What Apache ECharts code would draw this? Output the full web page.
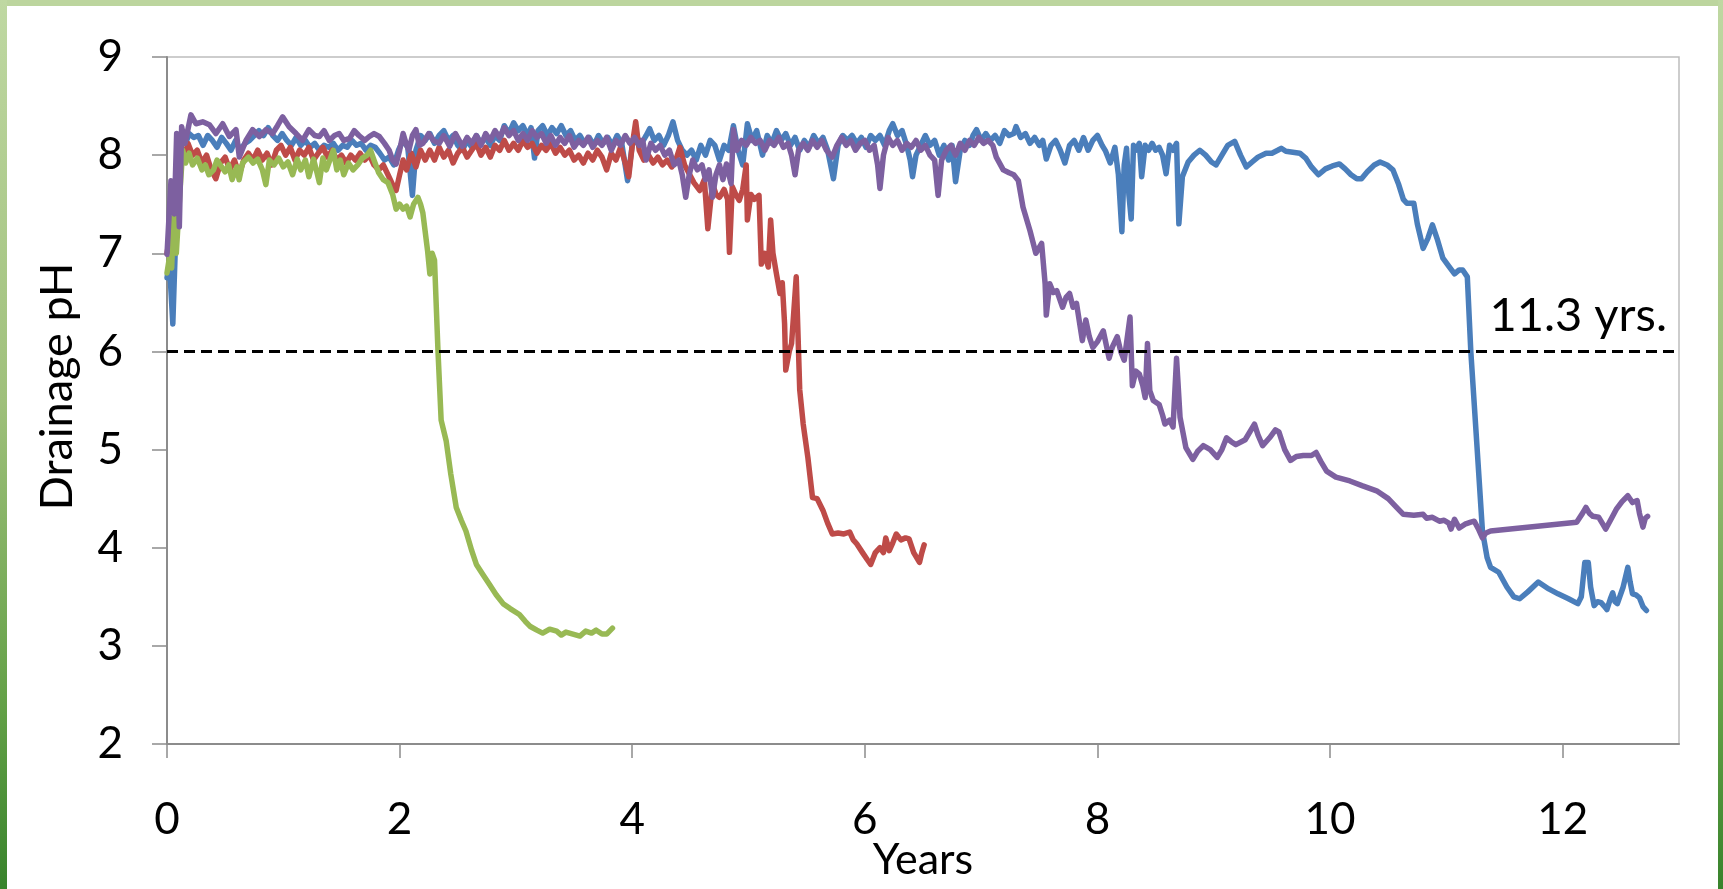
<!DOCTYPE html>
<html>
<head>
<meta charset="utf-8">
<title>Drainage pH over time</title>
<script src="https://cdn.jsdelivr.net/npm/echarts@6/dist/echarts.min.js"></script>
<style>
  html, body { margin: 0; padding: 0; background: #ffffff; }
  #chart { width: 1723px; height: 889px; }
</style>
</head>
<body>
<div id="chart"></div>
<script>
// Tick values for both axes
const xTicks = [0, 2, 4, 6, 8, 10, 12];
const yTicks = [2, 3, 4, 5, 6, 7, 8, 9];

// Threshold pH and its annotation
const thresholdPH = 6;
const thresholdLabel = '11.3 yrs.';

// Column series: [years, drainage pH]
const blueSeries = [
  [0, 6.75], [0.02, 6.9], [0.035, 6.6], [0.05, 6.28], [0.07, 7.0], [0.09, 7.3], [0.11, 7.9], [0.13, 8.15],
  [0.16, 8.12], [0.19, 8.22], [0.23, 8.18], [0.27, 8.2], [0.31, 8.1], [0.35, 8.2], [0.39, 8.15], [0.43, 8.08],
  [0.47, 8.18], [0.51, 8.12], [0.55, 8.05], [0.59, 8.15], [0.63, 8.05], [0.67, 8.12], [0.71, 8.15], [0.75, 8.2],
  [0.79, 8.25], [0.83, 8.2], [0.87, 8.28], [0.91, 8.2], [0.95, 8.15], [0.99, 8.22], [1.03, 8.15], [1.07, 8.1],
  [1.11, 8.18], [1.15, 8.1], [1.19, 8.15], [1.23, 8.08], [1.27, 8.12], [1.31, 8.05], [1.35, 8.1], [1.39, 8.08],
  [1.43, 8.12], [1.47, 8.05], [1.51, 8.1], [1.55, 8.08], [1.59, 8.15], [1.63, 8.1], [1.67, 8.12], [1.71, 8.05],
  [1.75, 8.1], [1.79, 8.08], [1.83, 8.02], [1.87, 7.95], [1.91, 7.98], [1.95, 7.9], [1.99, 8.05], [2.03, 8.15],
  [2.07, 8.08], [2.11, 7.59], [2.14, 8.05], [2.18, 8.2], [2.22, 8.15], [2.26, 8.22], [2.3, 8.12], [2.34, 8.2],
  [2.38, 8.25], [2.42, 8.15], [2.46, 8.2], [2.5, 8.1], [2.54, 8.05], [2.58, 8.15], [2.62, 8.08], [2.66, 8.2],
  [2.7, 8.12], [2.74, 8.18], [2.78, 8.1], [2.82, 8.2], [2.86, 8.15], [2.9, 8.3], [2.94, 8.22], [2.98, 8.33],
  [3.02, 8.25], [3.06, 8.3], [3.1, 8.2], [3.13, 8.28], [3.16, 7.97], [3.19, 8.25], [3.23, 8.3], [3.27, 8.2],
  [3.31, 8.28], [3.35, 8.22], [3.39, 8.3], [3.43, 8.2], [3.47, 8.25], [3.51, 8.15], [3.55, 8.2], [3.59, 8.12],
  [3.63, 8.18], [3.67, 8.1], [3.71, 8.2], [3.75, 8.12], [3.79, 8.18], [3.83, 8.1], [3.87, 8.2], [3.91, 8.12],
  [3.96, 7.74], [4.0, 8.1], [4.04, 8.18], [4.08, 8.12], [4.12, 8.2], [4.15, 8.27], [4.19, 8.15], [4.23, 8.2],
  [4.27, 8.1], [4.31, 8.2], [4.35, 8.34], [4.39, 8.15], [4.43, 8.05], [4.47, 8.0], [4.51, 8.05], [4.55, 7.95],
  [4.59, 8.1], [4.63, 8.0], [4.67, 8.15], [4.71, 8.1], [4.75, 7.95], [4.79, 8.1], [4.83, 8.05], [4.87, 8.3],
  [4.91, 8.05], [4.95, 7.9], [4.99, 8.32], [5.03, 8.15], [5.07, 8.25], [5.12, 8.0], [5.16, 8.2], [5.2, 8.12],
  [5.24, 8.25], [5.28, 8.15], [5.32, 8.22], [5.36, 8.1], [5.4, 8.18], [5.44, 8.05], [5.48, 8.15], [5.52, 8.08],
  [5.56, 8.2], [5.6, 8.12], [5.64, 8.18], [5.68, 8.05], [5.73, 7.76], [5.77, 8.1], [5.81, 8.2], [5.85, 8.15],
  [5.89, 8.2], [5.93, 8.12], [5.97, 8.18], [6.01, 8.08], [6.05, 8.2], [6.09, 8.15], [6.13, 8.2], [6.17, 8.1],
  [6.21, 8.25], [6.24, 8.32], [6.28, 8.2], [6.32, 8.25], [6.36, 8.1], [6.39, 7.95], [6.41, 7.78], [6.44, 8.0],
  [6.48, 8.1], [6.52, 8.2], [6.56, 8.1], [6.6, 8.15], [6.64, 8.0], [6.68, 8.1], [6.72, 7.95], [6.75, 8.1],
  [6.78, 7.73], [6.82, 8.05], [6.86, 8.15], [6.9, 8.1], [6.93, 8.2], [6.96, 8.26], [7.0, 8.15], [7.04, 8.22],
  [7.08, 8.15], [7.12, 8.2], [7.16, 8.12], [7.2, 8.25], [7.24, 8.2], [7.28, 8.22], [7.3, 8.29], [7.34, 8.18],
  [7.38, 8.22], [7.42, 8.12], [7.46, 8.18], [7.5, 8.1], [7.53, 8.15], [7.56, 7.96], [7.6, 8.1], [7.64, 8.15],
  [7.68, 8.05], [7.72, 7.92], [7.76, 8.1], [7.8, 8.15], [7.84, 8.05], [7.88, 8.18], [7.92, 8.05], [7.96, 8.15],
  [8.0, 8.2], [8.04, 8.1], [8.07, 8.04], [8.11, 7.92], [8.15, 8.08], [8.18, 7.8], [8.21, 7.22], [8.23, 7.9],
  [8.25, 8.07], [8.27, 7.6], [8.29, 7.35], [8.31, 8.1], [8.33, 8.05], [8.36, 8.12], [8.38, 7.78], [8.41, 8.1],
  [8.44, 8.05], [8.47, 8.12], [8.5, 8.05], [8.53, 8.08], [8.56, 8.0], [8.59, 7.81], [8.62, 8.1], [8.65, 8.05],
  [8.68, 8.12], [8.7, 7.3], [8.73, 7.78], [8.78, 7.93], [8.83, 8.0], [8.88, 8.05], [8.93, 8.0], [8.98, 7.93],
  [9.02, 7.9], [9.07, 8.0], [9.12, 8.1], [9.18, 8.14], [9.23, 8.0], [9.28, 7.88], [9.33, 7.93], [9.38, 7.98],
  [9.45, 8.02], [9.5, 8.02], [9.55, 8.05], [9.58, 8.07], [9.62, 8.04], [9.68, 8.03], [9.74, 8.02], [9.79, 7.97],
  [9.84, 7.88], [9.9, 7.8], [9.96, 7.86], [10.02, 7.89], [10.08, 7.91], [10.13, 7.86], [10.18, 7.8], [10.23, 7.76],
  [10.27, 7.76], [10.32, 7.83], [10.38, 7.9], [10.43, 7.93], [10.49, 7.9], [10.54, 7.85], [10.59, 7.7], [10.63, 7.55],
  [10.66, 7.51], [10.72, 7.51], [10.75, 7.3], [10.8, 7.05], [10.84, 7.15], [10.88, 7.29], [10.92, 7.15], [10.97, 6.95],
  [11.02, 6.87], [11.07, 6.79], [11.11, 6.83], [11.14, 6.83], [11.18, 6.76], [11.21, 6.0], [11.26, 5.09], [11.31, 4.17],
  [11.35, 3.9], [11.38, 3.8], [11.45, 3.75], [11.52, 3.6], [11.58, 3.5], [11.63, 3.48], [11.7, 3.55], [11.79, 3.65],
  [11.88, 3.58], [11.96, 3.53], [12.05, 3.48], [12.13, 3.43], [12.16, 3.5], [12.19, 3.85], [12.22, 3.85], [12.24, 3.6],
  [12.27, 3.41], [12.3, 3.45], [12.33, 3.44], [12.36, 3.4], [12.38, 3.37], [12.41, 3.48], [12.43, 3.54], [12.45, 3.45],
  [12.47, 3.43], [12.52, 3.6], [12.56, 3.8], [12.58, 3.65], [12.6, 3.53], [12.63, 3.52], [12.66, 3.49], [12.69, 3.4],
  [12.72, 3.36]
];

const redSeries = [
  [0, 7.0], [0.03, 7.2], [0.06, 7.05], [0.09, 7.6], [0.12, 8.1], [0.15, 7.95], [0.18, 8.12], [0.22, 8.0],
  [0.26, 8.05], [0.3, 7.92], [0.34, 8.0], [0.38, 7.85], [0.42, 7.76], [0.46, 7.92], [0.5, 7.98], [0.54, 7.85],
  [0.58, 7.95], [0.62, 7.8], [0.66, 7.95], [0.7, 8.02], [0.74, 7.95], [0.78, 8.05], [0.82, 7.95], [0.86, 8.02],
  [0.9, 7.9], [0.94, 8.05], [0.98, 8.1], [1.02, 8.0], [1.06, 8.08], [1.1, 7.95], [1.14, 8.05], [1.18, 8.0],
  [1.22, 8.08], [1.26, 7.95], [1.3, 8.02], [1.34, 8.08], [1.38, 7.98], [1.42, 8.05], [1.46, 7.95], [1.5, 8.0],
  [1.54, 7.92], [1.58, 8.0], [1.62, 7.95], [1.66, 8.02], [1.7, 7.95], [1.74, 8.0], [1.78, 7.9], [1.82, 7.85],
  [1.86, 7.9], [1.9, 7.8], [1.94, 7.7], [1.97, 7.64], [2.0, 7.8], [2.03, 7.95], [2.06, 7.85], [2.1, 8.02],
  [2.14, 7.88], [2.18, 8.05], [2.22, 7.95], [2.26, 8.05], [2.3, 7.95], [2.34, 8.08], [2.38, 7.98], [2.42, 8.05],
  [2.46, 7.92], [2.5, 8.02], [2.54, 8.08], [2.58, 7.98], [2.62, 8.05], [2.66, 8.12], [2.7, 8.0], [2.74, 8.08],
  [2.78, 7.98], [2.82, 8.1], [2.86, 8.05], [2.9, 8.15], [2.94, 8.05], [2.98, 8.12], [3.02, 8.05], [3.06, 8.15],
  [3.1, 8.08], [3.14, 8.12], [3.18, 8.02], [3.22, 8.1], [3.26, 8.05], [3.3, 8.12], [3.34, 8.02], [3.38, 8.08],
  [3.42, 8.0], [3.46, 8.05], [3.5, 7.95], [3.54, 8.0], [3.58, 7.92], [3.62, 8.02], [3.66, 7.95], [3.7, 8.05],
  [3.74, 7.98], [3.78, 7.85], [3.82, 8.02], [3.86, 7.95], [3.9, 8.08], [3.94, 7.92], [3.97, 7.78], [4.0, 8.1],
  [4.03, 8.34], [4.06, 8.05], [4.1, 7.95], [4.14, 8.0], [4.18, 7.92], [4.22, 7.98], [4.26, 7.9], [4.3, 7.95],
  [4.34, 7.88], [4.38, 7.97], [4.41, 8.08], [4.45, 7.9], [4.49, 7.81], [4.53, 7.72], [4.58, 7.64], [4.62, 7.75],
  [4.65, 7.25], [4.69, 7.71], [4.72, 7.6], [4.75, 7.57], [4.79, 7.65], [4.82, 7.55], [4.836, 7.01], [4.86, 7.68],
  [4.89, 7.6], [4.92, 7.54], [4.95, 7.65], [4.98, 7.9], [4.99, 7.34], [5.02, 7.6], [5.05, 7.55], [5.09, 7.59],
  [5.11, 6.89], [5.14, 7.0], [5.17, 6.86], [5.19, 7.34], [5.21, 7.0], [5.24, 6.79], [5.27, 6.59], [5.29, 6.7],
  [5.31, 6.28], [5.32, 5.81], [5.35, 6.0], [5.37, 6.08], [5.41, 6.76], [5.44, 5.61], [5.47, 5.26], [5.51, 4.92],
  [5.55, 4.51], [5.59, 4.5], [5.64, 4.38], [5.68, 4.25], [5.72, 4.14], [5.77, 4.15], [5.82, 4.14], [5.87, 4.16],
  [5.9, 4.08], [5.93, 4.04], [5.98, 3.95], [6.02, 3.88], [6.05, 3.83], [6.09, 3.95], [6.13, 4.0], [6.16, 3.95],
  [6.18, 4.1], [6.21, 3.97], [6.24, 4.05], [6.27, 4.14], [6.31, 4.08], [6.35, 4.1], [6.38, 4.09], [6.42, 3.95],
  [6.47, 3.85], [6.49, 3.95], [6.51, 4.03]
];

const greenSeries = [
  [0, 6.8], [0.02, 6.95], [0.04, 6.85], [0.057, 7.37], [0.08, 7.0], [0.11, 7.6], [0.135, 8.05], [0.16, 7.92],
  [0.19, 8.02], [0.22, 7.9], [0.26, 7.97], [0.3, 7.85], [0.33, 7.9], [0.36, 7.8], [0.4, 7.85], [0.43, 7.95],
  [0.47, 7.88], [0.5, 7.83], [0.53, 7.9], [0.56, 7.75], [0.6, 7.88], [0.62, 7.75], [0.65, 7.92], [0.7, 7.98],
  [0.74, 7.92], [0.78, 7.96], [0.82, 7.85], [0.85, 7.7], [0.88, 7.95], [0.92, 7.9], [0.96, 7.97], [1.0, 7.88],
  [1.04, 7.93], [1.08, 7.8], [1.12, 7.96], [1.15, 7.85], [1.19, 7.95], [1.22, 7.78], [1.26, 7.96], [1.29, 7.82],
  [1.31, 7.72], [1.34, 7.97], [1.37, 7.85], [1.4, 7.95], [1.43, 8.05], [1.46, 7.85], [1.49, 7.95], [1.52, 7.8],
  [1.56, 7.92], [1.6, 7.85], [1.64, 7.9], [1.68, 7.97], [1.72, 8.0], [1.75, 8.05], [1.78, 7.95], [1.82, 7.82],
  [1.86, 7.75], [1.9, 7.72], [1.94, 7.6], [1.97, 7.45], [2.0, 7.5], [2.03, 7.45], [2.06, 7.48], [2.09, 7.37],
  [2.12, 7.5], [2.157, 7.57], [2.18, 7.5], [2.2, 7.41], [2.24, 7.03], [2.26, 6.79], [2.28, 7.0], [2.3, 6.93],
  [2.33, 6.0], [2.357, 5.3], [2.4, 5.09], [2.44, 4.75], [2.487, 4.41], [2.53, 4.28], [2.57, 4.17], [2.62, 3.97],
  [2.66, 3.83], [2.72, 3.72], [2.77, 3.63], [2.83, 3.52], [2.89, 3.43], [2.95, 3.38], [3.03, 3.32], [3.08, 3.25],
  [3.12, 3.2], [3.18, 3.16], [3.23, 3.13], [3.29, 3.17], [3.35, 3.15], [3.39, 3.11], [3.43, 3.14], [3.49, 3.12],
  [3.55, 3.1], [3.6, 3.15], [3.65, 3.13], [3.69, 3.16], [3.74, 3.12], [3.78, 3.12], [3.83, 3.18]
];

const purpleSeries = [
  [0, 6.99], [0.034, 7.74], [0.063, 7.4], [0.083, 8.22], [0.106, 7.27], [0.126, 8.29], [0.155, 8.12], [0.206, 8.41],
  [0.249, 8.32], [0.307, 8.34], [0.364, 8.31], [0.421, 8.22], [0.479, 8.32], [0.536, 8.19], [0.593, 8.26], [0.622, 7.98],
  [0.679, 8.15], [0.736, 8.26], [0.794, 8.19], [0.851, 8.26], [0.908, 8.22], [0.95, 8.3], [0.994, 8.39], [1.05, 8.29],
  [1.11, 8.22], [1.166, 8.15], [1.22, 8.26], [1.27, 8.2], [1.31, 8.19], [1.35, 8.25], [1.395, 8.15], [1.44, 8.2],
  [1.48, 8.22], [1.52, 8.15], [1.57, 8.17], [1.61, 8.25], [1.65, 8.2], [1.7, 8.15], [1.74, 8.19], [1.78, 8.22],
  [1.825, 8.19], [1.87, 8.12], [1.91, 8.05], [1.94, 7.95], [1.97, 7.91], [2.0, 8.05], [2.03, 8.22], [2.06, 8.1],
  [2.08, 8.05], [2.11, 8.2], [2.14, 8.26], [2.17, 8.1], [2.2, 8.12], [2.25, 8.22], [2.29, 8.15], [2.34, 8.12],
  [2.38, 8.2], [2.43, 8.09], [2.48, 8.22], [2.54, 8.09], [2.58, 8.18], [2.62, 8.12], [2.66, 8.2], [2.7, 8.1],
  [2.74, 8.22], [2.78, 8.15], [2.82, 8.25], [2.86, 8.18], [2.9, 8.28], [2.94, 8.2], [2.98, 8.25], [3.02, 8.15],
  [3.06, 8.22], [3.1, 8.15], [3.14, 8.25], [3.18, 8.18], [3.22, 8.22], [3.26, 8.12], [3.3, 8.2], [3.34, 8.1],
  [3.38, 8.18], [3.42, 8.12], [3.46, 8.2], [3.5, 8.08], [3.54, 8.15], [3.58, 8.1], [3.62, 8.18], [3.66, 8.08],
  [3.7, 8.15], [3.74, 8.1], [3.78, 8.18], [3.82, 8.05], [3.86, 8.15], [3.9, 8.1], [3.94, 8.2], [3.98, 8.12],
  [4.02, 8.18], [4.06, 8.1], [4.09, 8.15], [4.12, 7.95], [4.16, 8.12], [4.2, 8.05], [4.24, 8.1], [4.28, 8.0],
  [4.32, 8.05], [4.36, 7.9], [4.4, 7.95], [4.43, 7.8], [4.46, 7.57], [4.49, 7.8], [4.52, 7.95], [4.56, 7.85],
  [4.6, 7.9], [4.63, 7.75], [4.66, 7.85], [4.69, 7.57], [4.72, 7.8], [4.75, 7.9], [4.78, 7.75], [4.81, 7.91],
  [4.85, 7.71], [4.87, 8.26], [4.9, 8.05], [4.94, 8.15], [4.98, 8.1], [5.02, 8.18], [5.06, 8.12], [5.1, 8.15],
  [5.14, 8.05], [5.18, 8.15], [5.22, 8.1], [5.26, 8.18], [5.3, 8.08], [5.34, 8.12], [5.37, 8.0], [5.4, 7.8],
  [5.43, 8.05], [5.47, 8.12], [5.51, 8.05], [5.55, 8.15], [5.59, 8.08], [5.63, 8.15], [5.67, 8.05], [5.72, 7.98],
  [5.76, 8.1], [5.8, 8.18], [5.84, 8.1], [5.88, 8.15], [5.92, 8.05], [5.96, 8.12], [6.0, 8.15], [6.04, 8.05],
  [6.08, 8.1], [6.11, 7.9], [6.13, 7.66], [6.16, 8.0], [6.2, 8.18], [6.24, 8.1], [6.28, 8.15], [6.32, 8.05],
  [6.36, 8.12], [6.4, 8.08], [6.44, 8.15], [6.48, 8.05], [6.52, 8.1], [6.56, 8.0], [6.6, 7.95], [6.63, 7.59],
  [6.66, 7.95], [6.7, 8.05], [6.74, 8.1], [6.78, 8.0], [6.82, 8.12], [6.86, 8.05], [6.9, 8.15], [6.94, 8.1],
  [6.98, 8.18], [7.02, 8.12], [7.06, 8.15], [7.1, 8.1], [7.13, 7.98], [7.19, 7.85], [7.24, 7.82], [7.28, 7.8],
  [7.32, 7.74], [7.36, 7.47], [7.42, 7.23], [7.47, 7.0], [7.52, 7.1], [7.55, 6.69], [7.56, 6.37], [7.59, 6.69],
  [7.62, 6.6], [7.65, 6.62], [7.7, 6.45], [7.73, 6.55], [7.76, 6.59], [7.79, 6.45], [7.82, 6.49], [7.87, 6.11],
  [7.9, 6.32], [7.93, 6.15], [7.96, 6.04], [8.0, 6.1], [8.05, 6.21], [8.1, 5.93], [8.13, 6.05], [8.17, 6.15],
  [8.2, 6.0], [8.23, 5.91], [8.28, 6.35], [8.3, 5.65], [8.33, 5.8], [8.36, 5.77], [8.39, 5.65], [8.41, 5.53],
  [8.43, 6.08], [8.45, 5.6], [8.48, 5.5], [8.53, 5.46], [8.56, 5.35], [8.58, 5.26], [8.62, 5.3], [8.65, 5.23],
  [8.68, 5.93], [8.71, 5.33], [8.76, 5.02], [8.82, 4.9], [8.86, 4.98], [8.91, 5.04], [8.97, 5.0], [9.03, 4.92],
  [9.07, 5.0], [9.11, 5.12], [9.15, 5.08], [9.19, 5.05], [9.27, 5.1], [9.35, 5.26], [9.38, 5.15], [9.42, 5.04],
  [9.48, 5.12], [9.53, 5.2], [9.56, 5.18], [9.61, 5.0], [9.66, 4.89], [9.71, 4.93], [9.77, 4.94], [9.84, 4.94],
  [9.88, 4.97], [9.92, 4.88], [9.97, 4.78], [10.05, 4.72], [10.17, 4.68], [10.28, 4.63], [10.4, 4.58], [10.5, 4.5],
  [10.58, 4.4], [10.63, 4.34], [10.72, 4.33], [10.8, 4.34], [10.83, 4.3], [10.88, 4.31], [10.94, 4.27], [10.98, 4.28],
  [11.02, 4.25], [11.04, 4.19], [11.07, 4.29], [11.11, 4.2], [11.16, 4.24], [11.21, 4.26], [11.24, 4.27], [11.28, 4.18],
  [11.31, 4.1], [11.34, 4.15], [11.38, 4.17], [12.12, 4.26], [12.17, 4.35], [12.2, 4.41], [12.23, 4.35], [12.26, 4.32],
  [12.31, 4.31], [12.34, 4.25], [12.37, 4.19], [12.42, 4.3], [12.46, 4.39], [12.51, 4.47], [12.56, 4.53], [12.6, 4.46],
  [12.64, 4.48], [12.66, 4.35], [12.69, 4.21], [12.71, 4.3], [12.73, 4.32]
];

const FONT = 'Lato, "Open Sans", sans-serif';
const chart = echarts.init(document.getElementById('chart'), null, { renderer: 'canvas' });

// Green frame bars on the top, left and right edges
const frameGradient = new echarts.graphic.LinearGradient(0, 0, 0, 1, [
  { offset: 0, color: '#bfd8a2' },
  { offset: 0.45, color: '#9fc07b' },
  { offset: 0.8, color: '#62a046' },
  { offset: 1, color: '#38832c' }
]);

function lineSeries(name, data, color, extra) {
  return Object.assign({
    name: name,
    type: 'line',
    data: data,
    showSymbol: false,
    symbol: 'none',
    smooth: false,
    lineStyle: { color: color, width: 5.5, join: 'round', cap: 'round' },
    itemStyle: { color: color },
    emphasis: { disabled: true }
  }, extra || {});
}

chart.setOption({
  animation: false,
  backgroundColor: '#ffffff',
  grid: {
    left: 167, right: 44, top: 57, bottom: 145,
    containLabel: false, outerBoundsMode: 'none',
    show: true, borderColor: '#bdbdbd', borderWidth: 1.5, backgroundColor: 'transparent'
  },
  xAxis: {
    type: 'value', min: 0, max: 13, interval: 2,
    name: 'Years', nameLocation: 'middle', nameGap: 95, nameMoveOverlap: false,
    nameTextStyle: { fontFamily: FONT, fontSize: 43, color: '#000' },
    axisLine: { show: true, onZero: false, lineStyle: { color: '#8c8c8c', width: 2 } },
    axisTick: { show: true, inside: false, length: 14, customValues: xTicks, lineStyle: { color: '#8c8c8c', width: 1.5 } },
    axisLabel: { customValues: xTicks, margin: 54, fontFamily: FONT, fontSize: 44, color: '#000' },
    splitLine: { show: false }
  },
  yAxis: {
    type: 'value', min: 2, max: 9, interval: 1,
    name: 'Drainage pH', nameLocation: 'middle', nameGap: 87, nameRotate: 90, nameMoveOverlap: false,
    nameTextStyle: { fontFamily: FONT, fontSize: 45, color: '#000', padding: [0, 0, 0, 28] },
    axisLine: { show: true, onZero: false, lineStyle: { color: '#8c8c8c', width: 2 } },
    axisTick: { show: true, inside: false, length: 15, customValues: yTicks, lineStyle: { color: '#8c8c8c', width: 1.5 } },
    axisLabel: { customValues: yTicks, margin: 44, fontFamily: FONT, fontSize: 44, color: '#000' },
    splitLine: { show: false }
  },
  series: [
    lineSeries('Blue', blueSeries, '#4a7ebb', {
      markLine: {
        silent: true,
        symbol: ['none', 'none'],
        lineStyle: { color: '#000000', type: [11, 6], width: 3.2 },
        label: {
          show: true, position: 'insideEndTop', formatter: thresholdLabel,
          fontFamily: FONT, fontSize: 47, color: '#000', distance: 12
        },
        data: [{ yAxis: thresholdPH }]
      }
    }),
    lineSeries('Red', redSeries, '#be4b48'),
    lineSeries('Green', greenSeries, '#98b954'),
    lineSeries('Purple', purpleSeries, '#7d60a0')
  ],
  graphic: [
    { type: 'rect', left: 0, top: 0, shape: { width: 1723, height: 6 }, style: { fill: '#bcd59e' }, silent: true, z: 100 },
    { type: 'rect', left: 0, top: 0, shape: { width: 7, height: 889 }, style: { fill: frameGradient }, silent: true, z: 100 },
    { type: 'rect', left: 1718, top: 0, shape: { width: 5, height: 889 }, style: { fill: frameGradient }, silent: true, z: 100 }
  ]
});
</script>
</body>
</html>
